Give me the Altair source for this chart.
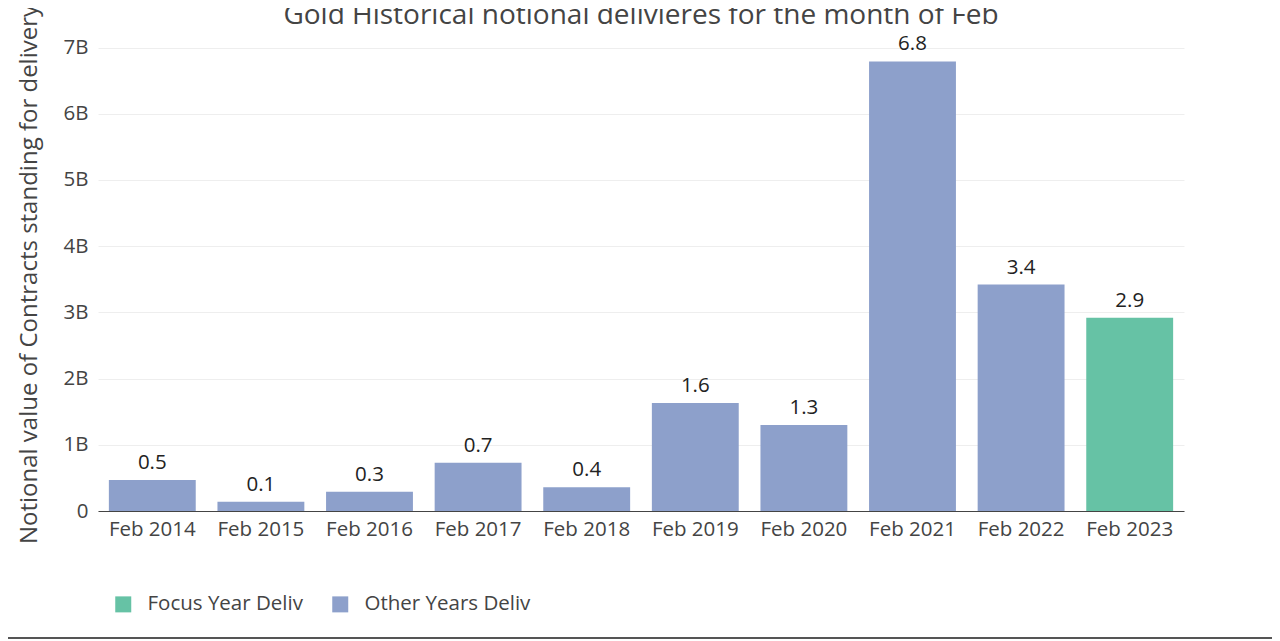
import altair as alt
import pandas as pd

months = ["Feb 2014", "Feb 2015", "Feb 2016", "Feb 2017", "Feb 2018",
          "Feb 2019", "Feb 2020", "Feb 2021", "Feb 2022", "Feb 2023"]
values_b = [0.47, 0.14, 0.29, 0.73, 0.36, 1.63, 1.30, 6.79, 3.42, 2.92]
series = ["Other Years Deliv"] * 9 + ["Focus Year Deliv"]

df = pd.DataFrame({"month": months, "value": values_b, "series": series})

FONT = "Open Sans"
TXT = "#444444"

base = alt.Chart(df)

x_enc = alt.X("month:N", sort=months, title=None,
              scale=alt.Scale(paddingInner=0.2, paddingOuter=0.1),
              axis=alt.Axis(labelAngle=0, labelFontSize=20.5, labelColor=TXT, labelFont=FONT,
                            ticks=False, domainColor=TXT, domainWidth=1, labelPadding=8,
                            grid=False))
y_enc = alt.Y("value:Q", title="Notional value of Contracts standing for delivery",
              scale=alt.Scale(domain=[0, 7.16], nice=False),
              axis=alt.Axis(values=[0, 1, 2, 3, 4, 5, 6, 7],
                            labelExpr="datum.value == 0 ? '0' : datum.value + 'B'",
                            labelFontSize=20.5, labelColor=TXT, labelFont=FONT, labelPadding=10,
                            ticks=False, domain=False, gridColor="#eeeeee", gridWidth=1,
                            titleFontSize=24, titleFont=FONT, titleColor=TXT,
                            titleFontWeight="normal", titlePadding=22))

bars = base.mark_bar().encode(
    x=x_enc,
    y=y_enc,
    color=alt.Color("series:N",
                    scale=alt.Scale(domain=["Focus Year Deliv", "Other Years Deliv"],
                                    range=["#66c2a5", "#8da0cb"]),
                    legend=alt.Legend(title=None, orient="none", direction="horizontal",
                                      legendX=15, legendY=557, symbolType="square",
                                      symbolSize=256, symbolStrokeWidth=0, labelFontSize=20.5,
                                      labelFont=FONT, labelColor=TXT, labelOffset=14,
                                      labelLimit=0, columnPadding=27)),
)

labels = base.mark_text(baseline="bottom", dy=-7, fontSize=20.5, font=FONT, color="#222222").encode(
    x=alt.X("month:N", sort=months),
    y=alt.Y("value:Q"),
    text=alt.Text("value:Q", format=".1f"),
)

border = alt.Chart(pd.DataFrame({"k": [0]})).mark_rule(color="#555555", strokeWidth=2).encode(
    x=alt.value(-98), x2=alt.value(1190), y=alt.value(601)
)

chart = (bars + labels + border).properties(
    width=1086, height=474,
    padding={"left": 90, "top": 29, "right": 88, "bottom": 130},
    autosize=alt.AutoSizeParams(type="none"),
    title=alt.TitleParams("Gold Historical notional delivieres for the month of Feb",
                          fontSize=28, font=FONT, color=TXT, fontWeight="normal",
                          anchor="middle", frame="group", offset=0, dy=26),
).configure_view(stroke=None)

chart.save("out.html", embed_options={"renderer": "svg", "actions": False})
